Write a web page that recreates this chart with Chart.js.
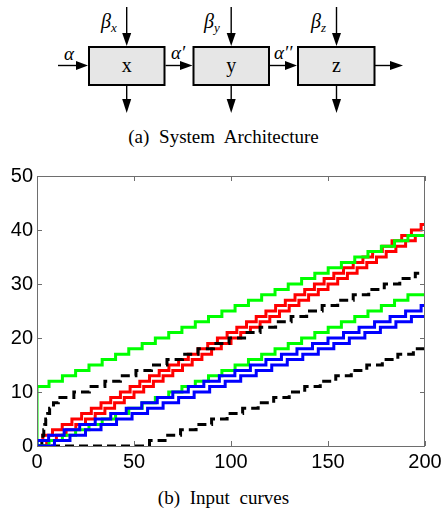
<!DOCTYPE html>
<html>
<head>
<meta charset="utf-8">
<script src="https://cdn.jsdelivr.net/npm/chart.js@4.4.1/dist/chart.umd.min.js"></script>
<style>
  body { margin: 0; background: #fff; width: 447px; height: 513px; position: relative; overflow: hidden; }
  #arch { position: absolute; left: 0; top: 0; }
  #box { position: absolute; left: 0; top: 160px; width: 447px; height: 320px; }
  .cap { position: absolute; left: 0; width: 447px; text-align: center; font: 19px "Liberation Serif"; line-height: 19px; word-spacing: 5px; color: #000; }
</style>
</head>
<body>
<svg id="arch" width="447" height="128" font-family="Liberation Serif">
  <g fill="#e6e6e6" stroke="#000" stroke-width="2">
    <rect x="89" y="47" width="75.5" height="38"/>
    <rect x="193.5" y="47" width="75.5" height="38"/>
    <rect x="298" y="47" width="76.5" height="38"/>
  </g>
  <g stroke="#000" stroke-width="1.4">
    <line x1="58" y1="65.5" x2="78" y2="65.5"/>
    <line x1="165.5" y1="65.5" x2="182" y2="65.5"/>
    <line x1="270" y1="65.5" x2="287" y2="65.5"/>
    <line x1="375" y1="65.5" x2="392" y2="65.5"/>
    <line x1="126.7" y1="7" x2="126.7" y2="35"/>
    <line x1="231.2" y1="7" x2="231.2" y2="35"/>
    <line x1="336.5" y1="7" x2="336.5" y2="35"/>
    <line x1="126.7" y1="86" x2="126.7" y2="100"/>
    <line x1="231.2" y1="86" x2="231.2" y2="100"/>
    <line x1="336.5" y1="86" x2="336.5" y2="100"/>
  </g>
  <g fill="#000">
    <polygon points="76,61 88,65.5 76,70"/>
    <polygon points="180,61 192.5,65.5 180,70"/>
    <polygon points="285,61 297,65.5 285,70"/>
    <polygon points="390,61 403,65.5 390,70"/>
    <polygon points="122.2,33 126.7,46 131.2,33"/>
    <polygon points="226.7,33 231.2,46 235.7,33"/>
    <polygon points="332,33 336.5,46 341,33"/>
    <polygon points="122.2,99 126.7,113 131.2,99"/>
    <polygon points="226.7,99 231.2,113 235.7,99"/>
    <polygon points="332,99 336.5,113 341,99"/>
  </g>
  <g font-size="20" text-anchor="middle">
    <text x="126.7" y="72">x</text>
    <text x="231.2" y="72">y</text>
    <text x="336.5" y="72">z</text>
  </g>
  <g font-style="italic">
    <text x="101" y="28" font-size="20">β<tspan font-size="13" dy="4">x</tspan></text>
    <text x="204" y="28" font-size="20">β<tspan font-size="13" dy="4">y</tspan></text>
    <text x="311" y="28" font-size="20">β<tspan font-size="13" dy="4">z</tspan></text>
    <text x="64" y="60" font-size="19">α</text>
    <text x="171" y="59" font-size="19">α′</text>
    <text x="274" y="59" font-size="19">α′′</text>
  </g>
</svg>
<div class="cap" style="top:127px">(a) System Architecture</div>
<div id="box"><canvas id="curves"></canvas></div>
<div class="cap" style="top:488px">(b) Input curves</div>
<script>
// tick labels
const xTicks = [0, 50, 100, 150, 200];
const yTicks = [0, 10, 20, 30, 40, 50];

// green pair (upper / lower)
const greenUpX = [0, 0, 6.2, 13.1, 19.9, 26.8, 33.6, 40.5, 47.3, 54.2, 61, 67.9, 74.7, 81.6, 88.4, 95.3, 102.1, 109, 115.8, 122.7, 129.5, 136.4, 143.2, 150.1, 156.9, 163.8, 170.6, 177.5, 184.3, 191.2, 200];
const greenUpY = [0, 11, 12, 13, 14, 15, 16, 17, 18, 19, 20, 21, 22, 23, 24, 25, 26, 27, 28, 29, 30, 31, 32, 33, 34, 35, 36, 37, 38, 39, 39];
const greenLoX = [0, 6.2, 13.1, 19.9, 26.8, 33.6, 40.5, 47.3, 54.2, 61, 67.9, 74.7, 81.6, 88.4, 95.3, 102.1, 109, 115.8, 122.7, 129.5, 136.4, 143.2, 150.1, 156.9, 163.8, 170.6, 177.5, 184.3, 191.2, 200];
const greenLoY = [0, 1, 2, 3, 4, 5, 6, 7, 8, 9, 10, 11, 12, 13, 14, 15, 16, 17, 18, 19, 20, 21, 22, 23, 24, 25, 26, 27, 28, 28];

// red pair
const redUpX = [0, 3, 8, 13, 18, 23, 28, 33, 38, 43, 48, 53, 58, 63, 68, 73, 78, 83, 88, 93, 98, 103, 108, 113, 118, 123, 128, 133, 138, 143, 148, 153, 158, 163, 168, 173, 178, 183, 188, 193, 198, 200];
const redUpY = [1, 2, 3, 4, 5, 6, 7, 8, 9, 10, 11, 12, 13, 14, 15, 16, 17, 18, 19, 20, 21, 22, 23, 24, 25, 26, 27, 28, 29, 30, 31, 32, 33, 34, 35, 36, 37, 38, 39, 40, 41, 41];
const redLoX = [0, 5, 10, 15, 20, 25, 30, 35, 40, 45, 50, 55, 60, 65, 70, 75, 80, 85, 90, 95, 100, 105, 110, 115, 120, 125, 130, 135, 140, 145, 150, 155, 160, 165, 170, 175, 180, 185, 190, 195, 200];
const redLoY = [0, 1, 2, 3, 4, 5, 6, 7, 8, 9, 10, 11, 12, 13, 14, 15, 16, 17, 18, 19, 20, 21, 22, 23, 24, 25, 26, 27, 28, 29, 30, 31, 32, 33, 34, 35, 36, 37, 38, 39, 39];

// blue pair
const blueUpX = [0, 0, 6, 14, 22, 30, 38, 46, 54, 62, 70, 78, 86, 94, 102, 110, 118, 126, 134, 142, 150, 158, 166, 174, 182, 190, 198, 200];
const blueUpY = [0, 1, 2, 3, 4, 5, 6, 7, 8, 9, 10, 11, 12, 13, 14, 15, 16, 17, 18, 19, 20, 21, 22, 23, 24, 25, 26, 26];
const blueLoX = [0, 9, 17, 25, 33, 41, 49, 57, 65, 73, 81, 89, 97, 105, 113, 121, 129, 137, 145, 153, 161, 169, 177, 185, 193, 200];
const blueLoY = [0, 1, 2, 3, 4, 5, 6, 7, 8, 9, 10, 11, 12, 13, 14, 15, 16, 17, 18, 19, 20, 21, 22, 23, 24, 24];

// black dashed pair
const blackUpX = [0, 2.5, 3, 3.5, 4, 4.5, 5.5, 6.5, 8.5, 11, 19, 27, 35, 43, 51, 59, 67, 75, 83, 91, 99, 107, 115, 123, 131, 139, 147, 155, 163, 171, 179, 187, 195, 200];
const blackUpY = [0, 1, 2, 3, 4, 5, 6, 7, 8, 9, 10, 11, 12, 13, 14, 15, 16, 17, 18, 19, 20, 21, 22, 23, 24, 25, 26, 27, 28, 29, 30, 31, 32, 32];
const blackLoX = [0, 58, 66, 74, 82, 90, 98, 106, 114, 122, 130, 138, 146, 154, 162, 170, 178, 186, 194, 200];
const blackLoY = [0, 1, 2, 3, 4, 5, 6, 7, 8, 9, 10, 11, 12, 13, 14, 15, 16, 17, 18, 18];

const pts = (xs, ys) => xs.map((x, i) => ({ x: x, y: ys[i] }));

function curve(xs, ys, color, order, dash) {
  return {
    data: pts(xs, ys),
    borderColor: color,
    borderWidth: 3,
    borderDash: dash || [],
    stepped: true,
    pointRadius: 0,
    order: order,
  };
}

// box around the plot with inward ticks on all sides
const frame = {
  id: "frame",
  afterDatasetsDraw(chart) {
    const { ctx, chartArea: a, scales } = chart;
    ctx.save();
    ctx.strokeStyle = "#6e6e6e";
    ctx.lineWidth = 1;
    ctx.strokeRect(a.left + 0.5, a.top + 0.5, a.width - 1, a.height);
    ctx.beginPath();
    xTicks.forEach((v) => {
      const px = Math.round(scales.x.getPixelForValue(v)) + 0.5;
      ctx.moveTo(px, a.bottom); ctx.lineTo(px, a.bottom - 5);
      ctx.moveTo(px, a.top); ctx.lineTo(px, a.top + 5);
    });
    yTicks.forEach((v) => {
      const py = Math.round(scales.y.getPixelForValue(v)) + 0.5;
      ctx.moveTo(a.left, py); ctx.lineTo(a.left + 5, py);
      ctx.moveTo(a.right, py); ctx.lineTo(a.right - 5, py);
    });
    ctx.stroke();
    ctx.restore();
  },
};

const tickFont = { family: "Liberation Sans", size: 20 };

new Chart(document.getElementById("curves"), {
  type: "line",
  data: {
    datasets: [
      curve(blueUpX, blueUpY, "#0000ff", 1),
      curve(blueLoX, blueLoY, "#0000ff", 1),
      curve(greenUpX, greenUpY, "#00ff00", 2),
      curve(greenLoX, greenLoY, "#00ff00", 2),
      curve(blackUpX, blackUpY, "#000000", 3, [9, 5]),
      curve(blackLoX, blackLoY, "#000000", 3, [9, 5]),
      curve(redUpX, redUpY, "#ff0000", 4),
      curve(redLoX, redLoY, "#ff0000", 4),
    ],
  },
  options: {
    responsive: true,
    maintainAspectRatio: false,
    animation: false,
    layout: { padding: { top: 14, right: 22, left: 0, bottom: 0 } },
    plugins: { legend: { display: false }, tooltip: { enabled: false } },
    scales: {
      x: {
        type: "linear",
        min: 0,
        max: 200,
        grid: { display: false, drawTicks: false },
        border: { display: false },
        ticks: { padding: 4, color: "#000", font: tickFont, maxRotation: 0 },
        afterBuildTicks: (s) => { s.ticks = xTicks.map((v) => ({ value: v })); },
        afterFit: (s) => { s.height = 34; },
      },
      y: {
        min: 0,
        max: 50,
        grid: { display: false, drawTicks: false },
        border: { display: false },
        ticks: { padding: 4, color: "#000", font: tickFont },
        afterBuildTicks: (s) => { s.ticks = yTicks.map((v) => ({ value: v })); },
        afterFit: (s) => { s.width = 37; },
      },
    },
  },
  plugins: [frame],
});
</script>
</body>
</html>
